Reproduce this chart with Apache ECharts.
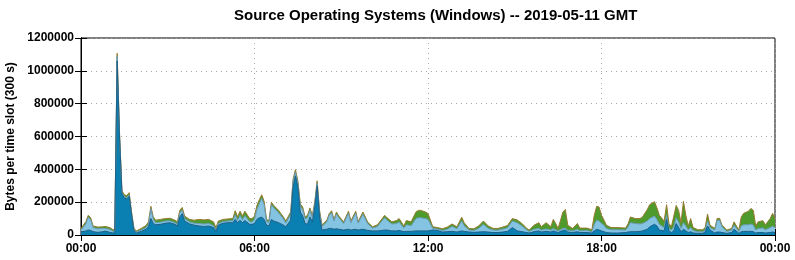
<!DOCTYPE html>
<html>
<head>
<meta charset="utf-8">
<script src="https://cdn.jsdelivr.net/npm/echarts@6/dist/echarts.min.js"></script>
<style>
html,body{margin:0;padding:0;background:#fff;}
#chart{width:795px;height:260px;}
</style>
</head>
<body>
<div id="chart"></div>
<script>
// time of each sample, minutes after 00:00 GMT
var minutes = [0,10,15,20,25,35,45,50,60,65,70,75,80,85,90,95,100,105,110,115,125,135,140,145,150,155,165,175,185,195,
200,205,210,215,225,235,245,255,265,275,280,285,295,305,315,320,325,330,335,340,350,355,360,365,370,375,380,385,390,395,
400,410,420,425,435,440,445,450,455,460,465,470,475,480,485,490,495,500,510,515,520,525,530,535,545,555,560,570,575,585,
595,605,615,625,630,635,645,655,660,670,675,685,695,700,705,715,720,730,740,750,760,770,780,790,795,805,815,825,835,845,
855,865,875,885,895,905,915,925,930,940,950,955,965,975,980,985,990,1000,1005,1010,1020,1030,1035,1050,1060,1065,1070,1075,1080,1085,
1090,1100,1115,1130,1135,1140,1150,1160,1165,1175,1180,1190,1195,1200,1210,1215,1220,1225,1230,1235,1240,1245,1250,1255,1260,1265,1270,1280,1290,1295,
1300,1305,1315,1320,1325,1330,1340,1350,1355,1365,1370,1375,1385,1390,1395,1400,1405,1415,1420,1430,1435,1440];

// bottom layer (dark blue), bytes per slot
var darkBlue = [20000,24000,30000,28000,20000,16000,20000,24000,16000,13000,12000,1060000,590000,250000,225000,220000,236000,120000,25000,12000,22000,35000,50000,100000,70000,62000,65000,72000,74000,65000,
55000,110000,130000,85000,68000,60000,55000,52000,55000,45000,22000,60000,72000,75000,75000,95000,75000,90000,75000,88000,65000,65000,70000,95000,105000,108000,95000,60000,55000,95000,
85000,75000,60000,50000,90000,290000,360000,290000,140000,115000,70000,65000,110000,80000,165000,300000,110000,30000,35000,40000,40000,35000,38000,35000,30000,35000,30000,35000,30000,35000,
28000,25000,25000,28000,30000,30000,25000,25000,28000,20000,22000,22000,25000,25000,25000,25000,25000,30000,28000,18000,20000,22000,18000,25000,22000,18000,16000,18000,20000,18000,
15000,15000,18000,22000,45000,25000,20000,15000,12000,20000,25000,18000,22000,18000,25000,20000,15000,28000,30000,18000,15000,20000,15000,15000,12000,25000,35000,30000,25000,20000,
15000,12000,12000,15000,18000,20000,20000,22000,25000,35000,50000,65000,55000,30000,25000,95000,25000,15000,25000,70000,45000,20000,35000,25000,15000,20000,12000,10000,10000,18000,
55000,30000,12000,18000,18000,15000,10000,15000,35000,10000,20000,22000,22000,22000,20000,12000,15000,15000,12000,15000,18000,15000];

// middle layer (light blue)
var lightBlue = [10000,43000,78000,65000,25000,22000,20000,16000,18000,12000,10000,30000,15000,8000,8000,8000,8000,8000,6000,6000,8000,10000,15000,60000,25000,13000,13000,13000,12000,10000,
10000,25000,22000,15000,12000,12000,15000,15000,15000,12000,10000,10000,10000,10000,12000,28000,15000,30000,18000,30000,15000,15000,25000,60000,85000,115000,90000,22000,22000,90000,
80000,60000,38000,23000,35000,35000,22000,25000,35000,40000,28000,40000,40000,28000,20000,15000,25000,22000,45000,80000,95000,50000,90000,70000,40000,98000,45000,98000,42000,92000,
40000,17000,27000,60000,75000,60000,42000,45000,52000,22000,40000,35000,75000,80000,80000,75000,70000,10000,8000,10000,15000,30000,20000,60000,35000,12000,12000,22000,45000,22000,
15000,14000,18000,22000,40000,50000,35000,15000,10000,15000,15000,12000,15000,12000,15000,12000,10000,12000,12000,10000,10000,15000,10000,12000,8000,40000,55000,55000,45000,40000,
25000,20000,20000,15000,30000,55000,50000,45000,45000,50000,50000,50000,40000,35000,20000,25000,15000,15000,25000,35000,35000,20000,40000,30000,15000,25000,15000,10000,10000,12000,
30000,15000,18000,70000,72000,35000,12000,15000,25000,12000,35000,40000,40000,45000,40000,18000,25000,28000,20000,30000,35000,30000];

// top layer (green)
var green = [10000,14000,12000,12000,10000,10000,10000,12000,11000,10000,8000,17000,15000,12000,12000,12000,14000,12000,9000,7000,10000,13000,15000,15000,15000,15000,17000,15000,16000,15000,
15000,15000,16000,15000,15000,18000,25000,25000,25000,23000,13000,15000,13000,13000,13000,25000,20000,25000,22000,27000,20000,20000,20000,25000,25000,22000,20000,13000,11000,15000,
15000,15000,12000,12000,15000,15000,16000,15000,15000,15000,12000,15000,15000,12000,15000,15000,15000,10000,10000,10000,13000,10000,12000,10000,10000,12000,10000,12000,10000,13000,
10000,8000,10000,12000,15000,15000,13000,18000,20000,13000,26000,23000,40000,45000,45000,40000,35000,10000,9000,10000,13000,15000,12000,23000,18000,10000,10000,15000,20000,15000,
10000,11000,12000,14000,15000,17000,15000,10000,8000,25000,35000,20000,38000,20000,55000,38000,15000,100000,113000,32000,15000,35000,17000,15000,12000,55000,85000,85000,50000,32000,
20000,13000,13000,12000,19000,35000,30000,33000,40000,70000,85000,88000,70000,55000,40000,65000,30000,20000,65000,75000,70000,35000,130000,65000,25000,55000,18000,12000,12000,15000,
43000,15000,10000,12000,12000,10000,8000,10000,20000,8000,55000,70000,83000,95000,90000,25000,40000,44000,30000,55000,79000,55000];

var yTicks = [0,200000,400000,600000,800000,1000000,1200000];
var xTickMinutes = [0,360,720,1080,1440];

// stacked tops of each layer (built from the layer arrays above)
var topDark = minutes.map(function(m,i){ return [m, darkBlue[i]]; });
var topLight = minutes.map(function(m,i){ return [m, darkBlue[i] + lightBlue[i]]; });
var topGreen = minutes.map(function(m,i){ return [m, darkBlue[i] + lightBlue[i] + green[i]]; });

function hhmm(m){ var h = Math.floor(m/60)%24; return (h<10?'0':'')+h+':00'; }

var FONT = '"Liberation Sans", Arial, Helvetica, sans-serif';
var chart = echarts.init(document.getElementById('chart'), null, {renderer:'canvas'});
var axisCommon = {
  axisLine:{show:true, lineStyle:{color:'#000', width:1}},
  axisTick:{show:true, inside:true, length:6, lineStyle:{color:'#000', width:1}}
};
var grid = {left:81, right:20, top:38, bottom:25, show:true, borderColor:'#000', borderWidth:1,
  backgroundColor:'transparent', containLabel:false, outerBoundsMode:'none'};
chart.setOption({
  animation:false,
  backgroundColor:'#fff',
  title:{
    text:'Source Operating Systems (Windows) -- 2019-05-11 GMT',
    left:229, top:3,
    textStyle:{fontFamily:FONT, fontSize:15, fontWeight:'bold', color:'#000'}
  },
  grid:grid,
  xAxis:[
    Object.assign({}, axisCommon, {
      type:'value', position:'bottom', min:xTickMinutes[0], max:xTickMinutes[xTickMinutes.length-1], interval:360,
      axisLabel:{margin:8, fontFamily:FONT, fontSize:12, fontWeight:'bold', color:'#000', formatter:function(v){return hhmm(v);}},
      splitLine:{show:true, lineStyle:{color:'#a8a8a8', type:[1,4], width:1}}
    }),
    Object.assign({}, axisCommon, {
      type:'value', position:'top', min:0, max:1440, interval:360,
      axisLabel:{show:false}, splitLine:{show:false}
    })
  ],
  yAxis:[
    Object.assign({}, axisCommon, {
      type:'value', position:'left', min:yTicks[0], max:yTicks[yTicks.length-1], interval:200000,
      name:'Bytes per time slot (300 s)', nameLocation:'middle', nameGap:61,
      nameTextStyle:{fontFamily:FONT, fontSize:12, fontWeight:'bold', color:'#000'},
      axisLabel:{margin:7, fontFamily:FONT, fontSize:12, fontWeight:'bold', color:'#000', formatter:function(v){return String(v);}},
      splitLine:{show:true, lineStyle:{color:'#a8a8a8', type:[1,4], width:1}}
    }),
    Object.assign({}, axisCommon, {
      type:'value', position:'right', min:0, max:1200000, interval:200000,
      axisLabel:{show:false}, splitLine:{show:false}
    })
  ],
  series:[
    {name:'layer3', type:'line', data:topGreen, symbol:'none', smooth:false,
     lineStyle:{color:'#957a2e', width:1}, areaStyle:{color:'#4f9a2c', opacity:1}},
    {name:'layer2', type:'line', data:topLight, symbol:'none', smooth:false,
     lineStyle:{color:'#6b9cb8', width:1}, areaStyle:{color:'#84c3e2', opacity:1}},
    {name:'layer1', type:'line', data:topDark, symbol:'none', smooth:false,
     lineStyle:{color:'#1d5f86', width:1}, areaStyle:{color:'#0a80b2', opacity:1}}
  ]
});
</script>
</body>
</html>
